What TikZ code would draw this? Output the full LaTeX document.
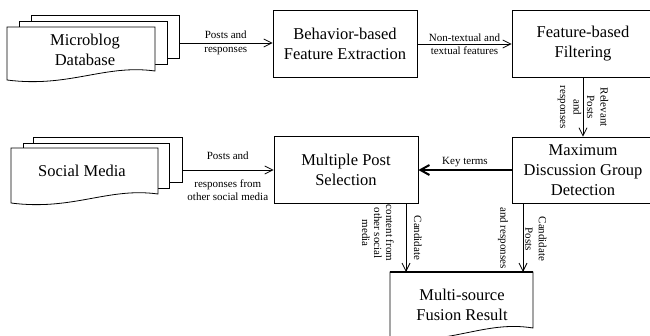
\documentclass[tikz,border=0pt]{standalone}
\usepackage{fontspec}
\setmainfont{Liberation Serif}
\usetikzlibrary{arrows.meta}
\tikzset{
  box/.style={draw, line width=0.8pt, minimum width=144pt, minimum height=67pt, align=center, inner sep=0pt, font=\fontsize{16.5}{20}\selectfont},
  btxt/.style={align=center, inner sep=0pt, font=\fontsize{16.5}{20}\selectfont},
  lbl/.style={align=center, inner sep=0pt, font=\fontsize{11}{13.5}\selectfont},
  rlbl/.style={lbl, rotate=-90},
  rlbls/.style={align=center, inner sep=0pt, rotate=-90, font=\fontsize{11}{12}\selectfont},
  arr/.style={line width=0.8pt, -{Straight Barb[length=8pt,width=8pt]}},
  thickarr/.style={line width=2pt, -{Straight Barb[length=9pt,width=10pt]}},
  doc/.style={draw, fill=white, line width=0.8pt}
}
\newcommand\docshape[4]{%
  \draw[doc] ({#1},{#2}) -- ({#3},{#2}) -- ({#3},{#4-9})
    .. controls ({#3-0.34*(#3-#1)},{#4-16}) and ({#1+0.42*(#3-#1)},{#4+8}) .. ({#1},{#4}) -- cycle;}
\begin{document}
\begin{tikzpicture}[x=1pt,y=-1pt]
\useasboundingbox (0,0) rectangle (650,335);
\clip (0,0) rectangle (650,335);

% Microblog stack
\draw[doc] (31,21) -- (31,15) -- (179,15) -- (179,58) -- (167,58);
\draw[doc] (19,27) -- (19,21) -- (167,21) -- (167,64) -- (155,64);
\docshape{7}{27}{155}{80}
\node[btxt] (mb) at (85,50) {Microblog\\Database};

% Social media stack
\draw[doc] (33,143) -- (33,137) -- (182,137) -- (182,182) -- (169,182);
\draw[doc] (23,148) -- (23,143) -- (169,143) -- (169,188) -- (158,188);
\docshape{11}{148}{158}{203}
\node[btxt] (sm) at (82,171) {Social Media};

% Boxes
\node[box] (beh) at (345,44) {Behavior-based\\Feature Extraction};
\node[box, minimum width=142pt] (fbf) at (583,44) {Feature-based\\Filtering};
\node[box, minimum width=142pt, minimum height=66pt] (mdg) at (583,170) {Maximum\\Discussion Group\\Detection};
\node[box] (mps) at (346,170) {Multiple Post\\Selection};

% Fusion result document
\draw[doc] (390,272) -- (533,272) -- (533,328) .. controls (484,320) and (450,346) .. (390,338) -- cycle;
\draw[line width=1.6pt] (390,272) -- (533,272);
\node[btxt] (fr) at (462,305) {Multi-source\\Fusion Result};

% Connector end points
\coordinate (mbR) at (179,43);
\coordinate (smR) at (182,170);
\coordinate (fr1) at (406,272);
\coordinate (fr2) at (523,272);

% Connectors
\draw[arr] (mbR) -- (mbR -| beh.west) node[midway, lbl] (l0) {Posts and\\responses};
\draw[arr] (beh.east) -- (fbf.west) node[midway, lbl] (l1) {Non-textual and\\textual features};
\draw[arr] (fbf.south) -- (mdg.north) node[midway, rlbl] (l2) {Relevant\\Posts\\and\\responses};
\draw[thickarr] (mdg.west) -- (mps.east) node[midway, lbl, anchor=south, yshift=2pt] (l3) {Key terms};
\draw[arr] (smR) -- (smR -| mps.west)
  node[midway, lbl, anchor=south, yshift=10pt] (l4) {Posts and}
  node[midway, lbl, anchor=north, yshift=-9pt] (l5) {responses from\\other social media};
\draw[arr] (mps.south -| fr1) -- (fr1);
\draw[arr] (mdg.south -| fr2) -- (fr2);

\node[rlbls] (l6) at (418,238) {Candidate};
\node[rlbls] (l7) at (378,233) {content from\\other social\\media};
\node[rlbl] (l8) at (536,239) {Candidate\\Posts};
\node[rlbl] (l9) at (503,238) {and responses};
\end{tikzpicture}
\end{document}
